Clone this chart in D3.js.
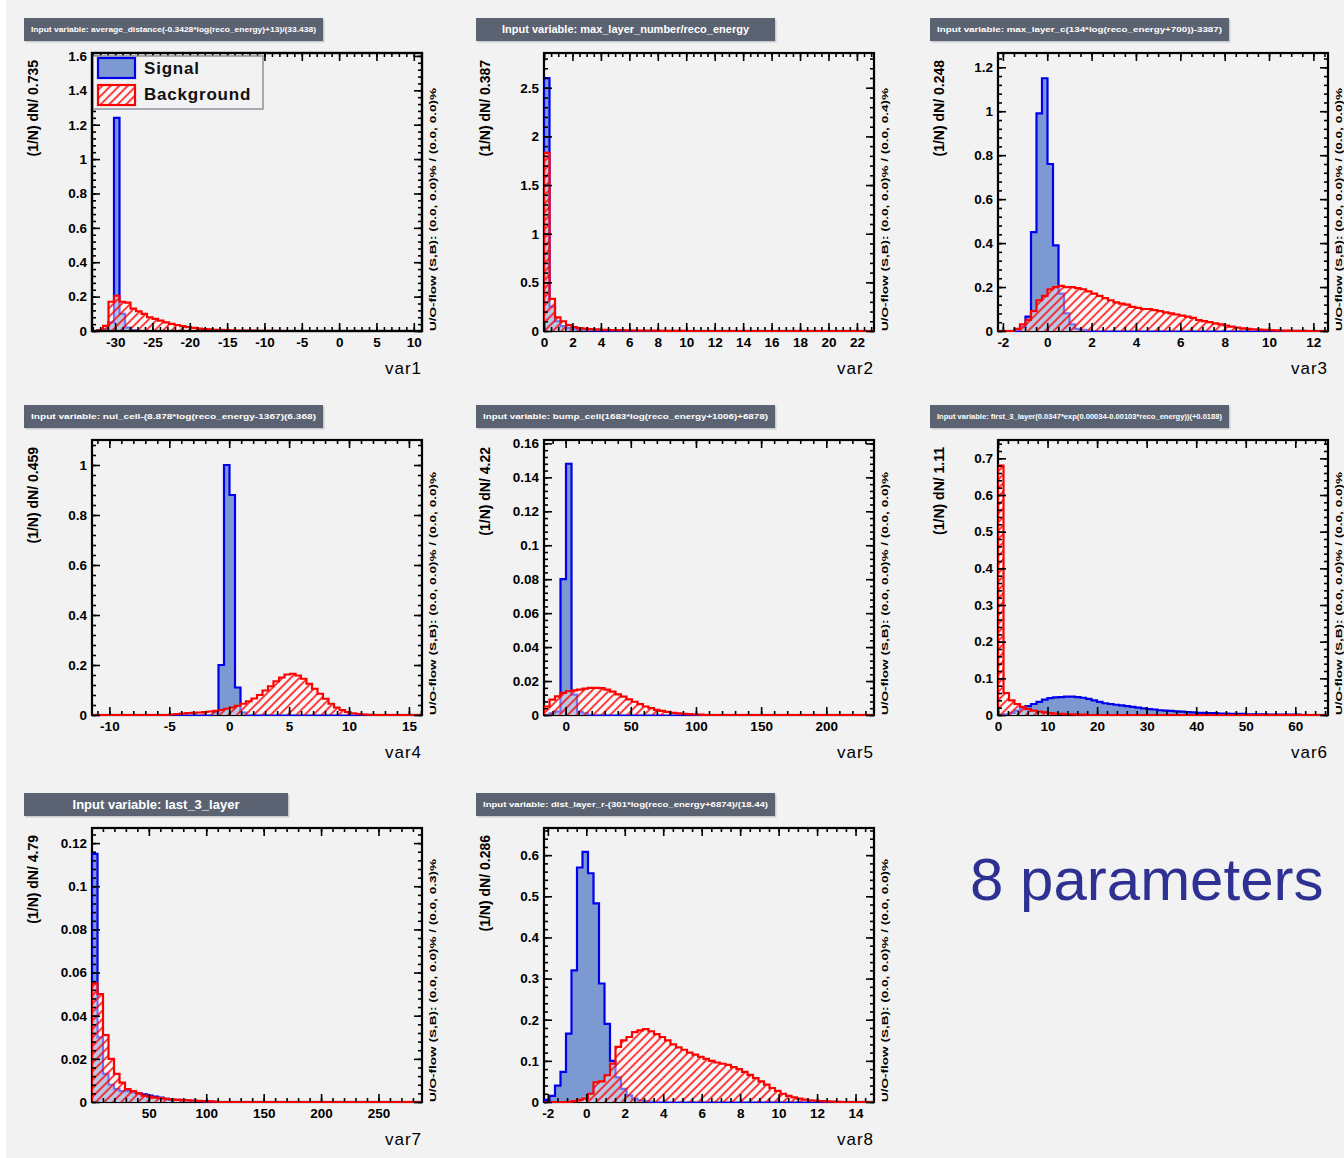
<!DOCTYPE html>
<html><head><meta charset="utf-8">
<script src="https://cdn.jsdelivr.net/npm/d3@7"></script>
<style>
html,body{margin:0;padding:0;background:#fff;}
svg{display:block;}
text{font-family:"Liberation Sans",Arial,Helvetica,sans-serif;}
</style></head><body>
<svg id="c" width="1344" height="1158"></svg>
<script>
// ---------------- DATA ----------------
const nBins = 60;
const varNames = ["var1","var2","var3","var4","var5","var6","var7","var8"];
const titles = [
  "Input variable: average_distance(-0.3428*log(reco_energy)+13)/(33.438)",
  "Input variable: max_layer_number/reco_energy",
  "Input variable: max_layer_c(134*log(reco_energy+700))-3387)",
  "Input variable: nul_cell-(8.878*log(reco_energy-1367)(6.368)",
  "Input variable: bump_cell(1683*log(reco_energy+1006)+6878)",
  "Input variable: first_3_layer(0.0347*exp(0.00034-0.00103*reco_energy))(+0.0188)",
  "Input variable: last_3_layer",
  "Input variable: dist_layer_r-(301*log(reco_energy+6874)/(18.44)"
];
const binWidthLabels = ["0.735","0.387","0.248","0.459","4.22","1.11","4.79","0.286"];
const xMins = [-33.1, 0, -2.22, -11.45, -16.6, 0, 0.5, -2.2];
const xMaxs = [11.1, 23.2, 12.66, 16.09, 236.6, 66.6, 287.9, 14.96];
const yMaxs = [1.617, 2.857, 1.265, 1.1, 0.162, 0.75, 0.127, 0.666];
const xMajorSteps = [5, 2, 2, 5, 50, 10, 50, 2];
const xMinorSteps = [1, 0.5, 0.5, 1, 10, 2, 10, 0.5];
const yMajorSteps = [0.2, 0.5, 0.2, 0.2, 0.02, 0.1, 0.02, 0.1];
const yMinorSteps = [0.04, 0.1, 0.04, 0.04, 0.004, 0.02, 0.004, 0.02];
const overflowTexts = [
  "U/O-flow (S,B): (0.0, 0.0)% / (0.0, 0.0)%",
  "U/O-flow (S,B): (0.0, 0.0)% / (0.0, 0.4)%",
  "U/O-flow (S,B): (0.0, 0.0)% / (0.0, 0.0)%",
  "U/O-flow (S,B): (0.0, 0.0)% / (0.0, 0.0)%",
  "U/O-flow (S,B): (0.0, 0.0)% / (0.0, 0.0)%",
  "U/O-flow (S,B): (0.0, 0.0)% / (0.0, 0.0)%",
  "U/O-flow (S,B): (0.0, 0.0)% / (0.0, 0.3)%",
  "U/O-flow (S,B): (0.0, 0.0)% / (0.0, 0.0)%"
];
const legendLabels = ["Signal", "Background"];
const sideNote = "8 parameters";

// bin contents (1/N dN/dx), from the first bin; missing trailing bins are empty
const var1Signal = [0, 0, 0.01, 0.05, 1.24, 0.1, 0.02, 0.005];
const var1Background = [0, 0.005, 0.03, 0.17, 0.205, 0.17, 0.165, 0.13, 0.115, 0.1, 0.08, 0.07, 0.06, 0.05, 0.042, 0.035, 0.028, 0.022, 0.018, 0.014, 0.011, 0.009, 0.007, 0.006, 0.005, 0.004, 0.003, 0.003, 0.002, 0.002, 0.001, 0.001, 0.001, 0.001];
const var2Signal = [2.6, 0.25, 0.1, 0.05, 0.03, 0.02, 0.012, 0.008, 0.005, 0.004, 0.003, 0.002, 0.002, 0.001, 0.001];
const var2Background = [1.83, 0.33, 0.14, 0.1, 0.06, 0.04, 0.03, 0.025, 0.02, 0.016, 0.013, 0.011, 0.009, 0.008, 0.007, 0.006, 0.005, 0.004, 0.004, 0.003, 0.003, 0.002, 0.002, 0.002, 0.001, 0.001];
const var3Signal = [0, 0, 0, 0, 0.02, 0.065, 0.45, 0.99, 1.15, 0.76, 0.39, 0.17, 0.08, 0.03, 0.01, 0.005, 0.002];
const var3Background = [0, 0, 0, 0.01, 0.03, 0.05, 0.09, 0.14, 0.16, 0.19, 0.2, 0.205, 0.2, 0.2, 0.195, 0.19, 0.18, 0.17, 0.16, 0.15, 0.14, 0.13, 0.125, 0.12, 0.11, 0.105, 0.1, 0.1, 0.095, 0.09, 0.085, 0.08, 0.075, 0.07, 0.065, 0.06, 0.05, 0.045, 0.04, 0.035, 0.03, 0.025, 0.02, 0.015, 0.012, 0.01, 0.008, 0.006, 0.005, 0.004, 0.003, 0.002, 0.002, 0.001, 0.001, 0.001];
const var4Signal = [0, 0, 0, 0, 0, 0, 0, 0, 0, 0, 0, 0, 0, 0, 0, 0, 0, 0, 0, 0, 0, 0, 0.01, 0.2, 1.0, 0.88, 0.11, 0.01];
const var4Background = [0, 0, 0, 0, 0, 0, 0, 0, 0, 0, 0, 0, 0, 0, 0.002, 0.004, 0.006, 0.008, 0.009, 0.01, 0.012, 0.014, 0.017, 0.02, 0.025, 0.03, 0.037, 0.045, 0.055, 0.066, 0.08, 0.098, 0.115, 0.135, 0.15, 0.162, 0.165, 0.158, 0.145, 0.125, 0.105, 0.085, 0.065, 0.045, 0.03, 0.02, 0.012, 0.007, 0.004, 0.002, 0.001];
const var5Signal = [0, 0.001, 0.002, 0.08, 0.148, 0.012, 0.002, 0.001];
const var5Background = [0.005, 0.009, 0.011, 0.013, 0.014, 0.0145, 0.015, 0.0155, 0.016, 0.016, 0.0158, 0.015, 0.0138, 0.0122, 0.0108, 0.0092, 0.0078, 0.0064, 0.005, 0.004, 0.003, 0.0024, 0.0018, 0.0013, 0.001, 0.0007, 0.0005, 0.0003, 0.0002];
const var6Signal = [0, 0.002, 0.006, 0.012, 0.018, 0.024, 0.03, 0.036, 0.042, 0.046, 0.048, 0.049, 0.05, 0.05, 0.049, 0.047, 0.044, 0.04, 0.036, 0.032, 0.03, 0.028, 0.026, 0.024, 0.022, 0.02, 0.018, 0.016, 0.015, 0.013, 0.012, 0.011, 0.01, 0.009, 0.008, 0.007, 0.006, 0.006, 0.005, 0.005, 0.004, 0.004, 0.003, 0.003, 0.003, 0.002, 0.002, 0.002, 0.002, 0.001, 0.001, 0.001, 0.001, 0.001, 0.001];
const var6Background = [0.68, 0.06, 0.04, 0.03, 0.022, 0.016, 0.012, 0.009, 0.007, 0.005, 0.004, 0.003, 0.002, 0.002, 0.001, 0.001];
const var7Signal = [0.115, 0.03, 0.013, 0.008, 0.006, 0.005, 0.005, 0.0045, 0.004, 0.0035, 0.003, 0.0025, 0.002, 0.0015, 0.001, 0.001, 0.0008, 0.0006, 0.0005, 0.0004, 0.0003, 0.0002];
const var7Background = [0.055, 0.05, 0.031, 0.02, 0.013, 0.009, 0.006, 0.005, 0.004, 0.003, 0.0025, 0.002, 0.0018, 0.0015, 0.0012, 0.001, 0.001, 0.0008, 0.0007, 0.0005, 0.0004, 0.0003, 0.0002];
const var8Signal = [0.005, 0.015, 0.04, 0.073, 0.166, 0.32, 0.57, 0.608, 0.556, 0.483, 0.288, 0.19, 0.1, 0.06, 0.032, 0.016, 0.008, 0.004, 0.002, 0.001];
const var8Background = [0, 0, 0, 0, 0, 0.002, 0.005, 0.008, 0.02, 0.048, 0.05, 0.065, 0.093, 0.134, 0.15, 0.158, 0.17, 0.174, 0.177, 0.172, 0.165, 0.158, 0.15, 0.14, 0.133, 0.127, 0.12, 0.115, 0.11, 0.105, 0.1, 0.096, 0.093, 0.09, 0.085, 0.08, 0.073, 0.066, 0.058, 0.05, 0.042, 0.034, 0.027, 0.02, 0.015, 0.011, 0.008, 0.006, 0.004, 0.003, 0.002, 0.0015, 0.001, 0.0005];

const signals = [var1Signal, var2Signal, var3Signal, var4Signal, var5Signal, var6Signal, var7Signal, var8Signal];
const backgrounds = [var1Background, var2Background, var3Background, var4Background, var5Background, var6Background, var7Background, var8Background];

// ---------------- LAYOUT / STYLE ----------------
const colLeft = [92, 544, 998];
const rowTop = [53, 440, 828];
const rowH = [278, 275, 274];
const frameW = 330;
const titleStyle = [
  {fs: 7.5, fit: true, w: 299}, {fs: 11, fit: false, w: 299}, {fs: 7.5, fit: true, w: 299},
  {fs: 7.5, fit: true, w: 299}, {fs: 7.5, fit: true, w: 299}, {fs: 7, fit: true, w: 299},
  {fs: 13, fit: false, w: 264}, {fs: 7.5, fit: true, w: 299}
];
const SIG_FILL = "#7d99d1", SIG_LINE = "#0000ee", BKG_LINE = "#ff0000";
const BG = "#f2f2f2";

const svg = d3.select("#c");
svg.append("rect").attr("width", 1344).attr("height", 1158).attr("fill", BG);
svg.append("rect").attr("width", 6).attr("height", 1158).attr("fill", "#ffffff");

const defs = svg.append("defs");
const pat = defs.append("pattern").attr("id", "hatch")
  .attr("patternUnits", "userSpaceOnUse").attr("width", 6).attr("height", 6)
  .attr("patternTransform", "rotate(45)");
pat.append("rect").attr("width", 6).attr("height", 6).attr("fill", "#ffffff").attr("opacity", 0.45);
pat.append("line").attr("x1", 1).attr("x2", 1).attr("y1", 0).attr("y2", 6)
  .attr("stroke", BKG_LINE).attr("stroke-width", 1.5);

function ticksBetween(lo, hi, step) {
  const out = [];
  const start = Math.ceil(lo / step - 1e-9);
  for (let k = start; k * step <= hi + 1e-9; k++) out.push(+(k * step).toFixed(6));
  return out;
}
function histPoints(vals, xmin, xmax) {
  const w = (xmax - xmin) / nBins;
  const pts = [{x: xmin, y: 0}];
  for (let i = 0; i < nBins; i++) {
    const v = i < vals.length ? vals[i] : 0;
    pts.push({x: xmin + i * w, y: v});
    pts.push({x: xmin + (i + 1) * w, y: v});
  }
  pts.push({x: xmax, y: 0});
  return pts;
}

for (let k = 0; k < 8; k++) {
  const col = k % 3, row = Math.floor(k / 3);
  const L = colLeft[col], T = rowTop[row], H = rowH[row], R = L + frameW, B = T + H;
  const x = d3.scaleLinear().domain([xMins[k], xMaxs[k]]).range([L, R]);
  const y = d3.scaleLinear().domain([0, yMaxs[k]]).range([B, T]);
  const g = svg.append("g");

  // title box
  const ts = titleStyle[k];
  const bx = L - 68, by = T - 35;
  g.append("rect").attr("x", bx + 1.5).attr("y", by + 1.5).attr("width", ts.w).attr("height", 23)
    .attr("fill", "#c8cbd0");
  g.append("rect").attr("x", bx).attr("y", by).attr("width", ts.w).attr("height", 23)
    .attr("fill", "#5b6372");
  const tt = g.append("text").attr("x", bx + ts.w / 2).attr("y", by + 11.5).attr("dy", "0.35em")
    .attr("text-anchor", "middle").attr("fill", "#ffffff").attr("font-weight", "bold")
    .attr("font-size", ts.fs).text(titles[k]);
  if (ts.fit) tt.attr("textLength", ts.w - 14).attr("lengthAdjust", "spacingAndGlyphs");

  // frame
  g.append("rect").attr("x", L).attr("y", T).attr("width", frameW).attr("height", H)
    .attr("fill", "none").attr("stroke", "#000").attr("stroke-width", 2.2);

  // histograms
  const clipId = "clip" + k;
  defs.append("clipPath").attr("id", clipId).append("rect")
    .attr("x", L).attr("y", T).attr("width", frameW).attr("height", H + 1);
  const hg = g.append("g").attr("clip-path", `url(#${clipId})`);
  const area = d3.area().x(d => x(d.x)).y0(y(0)).y1(d => y(d.y));
  const line = d3.line().x(d => x(d.x)).y(d => y(d.y));
  const sp = histPoints(signals[k], xMins[k], xMaxs[k]);
  const bp = histPoints(backgrounds[k], xMins[k], xMaxs[k]);
  hg.append("path").attr("d", area(sp)).attr("fill", SIG_FILL);
  hg.append("path").attr("d", line(sp)).attr("fill", "none").attr("stroke", SIG_LINE).attr("stroke-width", 2.2);
  hg.append("path").attr("d", area(bp)).attr("fill", "url(#hatch)");
  hg.append("path").attr("d", line(bp)).attr("fill", "none").attr("stroke", BKG_LINE).attr("stroke-width", 2.2);

  // axes (ticks inside frame, mirrored)
  const xMaj = ticksBetween(xMins[k], xMaxs[k], xMajorSteps[k]);
  const xMin = ticksBetween(xMins[k], xMaxs[k], xMinorSteps[k]);
  const yMaj = ticksBetween(0, yMaxs[k], yMajorSteps[k]);
  const yMin = ticksBetween(0, yMaxs[k], yMinorSteps[k]);
  const fmt = v => String(v);
  const styleAxis = (sel, labels) => {
    sel.select(".domain").remove();
    sel.selectAll(".tick line").attr("stroke", "#000").attr("stroke-width", 1.6);
    sel.selectAll(".tick text").attr("font-family", "'Liberation Sans',Arial,sans-serif")
      .attr("font-size", 13.5).attr("font-weight", "bold").attr("fill", "#000");
    if (!labels) sel.selectAll(".tick text").remove();
  };
  g.append("g").attr("transform", `translate(0,${B})`)
    .call(d3.axisBottom(x).tickValues(xMin).tickSize(-4).tickFormat("")).call(s => styleAxis(s, false));
  g.append("g").attr("transform", `translate(0,${B})`)
    .call(d3.axisBottom(x).tickValues(xMaj).tickSize(-8).tickPadding(6).tickFormat(fmt)).call(s => styleAxis(s, true));
  g.append("g").attr("transform", `translate(0,${T})`)
    .call(d3.axisTop(x).tickValues(xMin).tickSize(-4).tickFormat("")).call(s => styleAxis(s, false));
  g.append("g").attr("transform", `translate(0,${T})`)
    .call(d3.axisTop(x).tickValues(xMaj).tickSize(-8).tickFormat("")).call(s => styleAxis(s, false));
  g.append("g").attr("transform", `translate(${L},0)`)
    .call(d3.axisLeft(y).tickValues(yMin).tickSize(-4).tickFormat("")).call(s => styleAxis(s, false));
  g.append("g").attr("transform", `translate(${L},0)`)
    .call(d3.axisLeft(y).tickValues(yMaj).tickSize(-8).tickPadding(5).tickFormat(fmt)).call(s => styleAxis(s, true));
  g.append("g").attr("transform", `translate(${R},0)`)
    .call(d3.axisRight(y).tickValues(yMin).tickSize(-4).tickFormat("")).call(s => styleAxis(s, false));
  g.append("g").attr("transform", `translate(${R},0)`)
    .call(d3.axisRight(y).tickValues(yMaj).tickSize(-8).tickFormat("")).call(s => styleAxis(s, false));

  // axis titles
  g.append("text").attr("x", R).attr("y", B + 43).attr("text-anchor", "end")
    .attr("font-size", 17).attr("letter-spacing", 1).attr("fill", "#000").text(varNames[k]);
  g.append("text").attr("transform", `translate(${L - 54},${T + 7}) rotate(-90)`)
    .attr("text-anchor", "end").attr("font-size", 14).attr("font-weight", "bold").attr("fill", "#000")
    .text("(1/N) dN/ " + binWidthLabels[k]);
  g.append("text").attr("transform", `translate(${R + 14},${B}) rotate(-90)`)
    .attr("text-anchor", "start").attr("font-size", 9).attr("font-weight", "bold").attr("fill", "#000")
    .attr("textLength", 243).attr("lengthAdjust", "spacingAndGlyphs")
    .text(overflowTexts[k]);

  // legend (first panel only)
  if (k === 0) {
    const lg = g.append("g");
    lg.append("rect").attr("x", L + 1).attr("y", T + 3).attr("width", 170).attr("height", 53)
      .attr("fill", BG).attr("stroke", "#8d939c").attr("stroke-width", 1.5);
    lg.append("rect").attr("x", L + 6).attr("y", T + 5).attr("width", 37).attr("height", 20)
      .attr("fill", SIG_FILL).attr("stroke", SIG_LINE).attr("stroke-width", 2.2);
    lg.append("rect").attr("x", L + 6).attr("y", T + 32).attr("width", 37).attr("height", 20)
      .attr("fill", "url(#hatch)").attr("stroke", BKG_LINE).attr("stroke-width", 2.2);
    lg.append("text").attr("x", L + 52).attr("y", T + 15).attr("dy", "0.35em")
      .attr("font-size", 17).attr("font-weight", "bold").attr("letter-spacing", 0.8).attr("fill", "#111")
      .text(legendLabels[0]);
    lg.append("text").attr("x", L + 52).attr("y", T + 41).attr("dy", "0.35em")
      .attr("font-size", 17).attr("font-weight", "bold").attr("letter-spacing", 0.8).attr("fill", "#111")
      .text(legendLabels[1]);
    // redraw frame corner over legend
    g.append("rect").attr("x", L).attr("y", T).attr("width", frameW).attr("height", H)
      .attr("fill", "none").attr("stroke", "#000").attr("stroke-width", 2.2);
  }
}

svg.append("text").attr("x", 970).attr("y", 900).attr("font-size", 60)
  .attr("fill", "#2e3192").text(sideNote);
</script>
</body></html>
